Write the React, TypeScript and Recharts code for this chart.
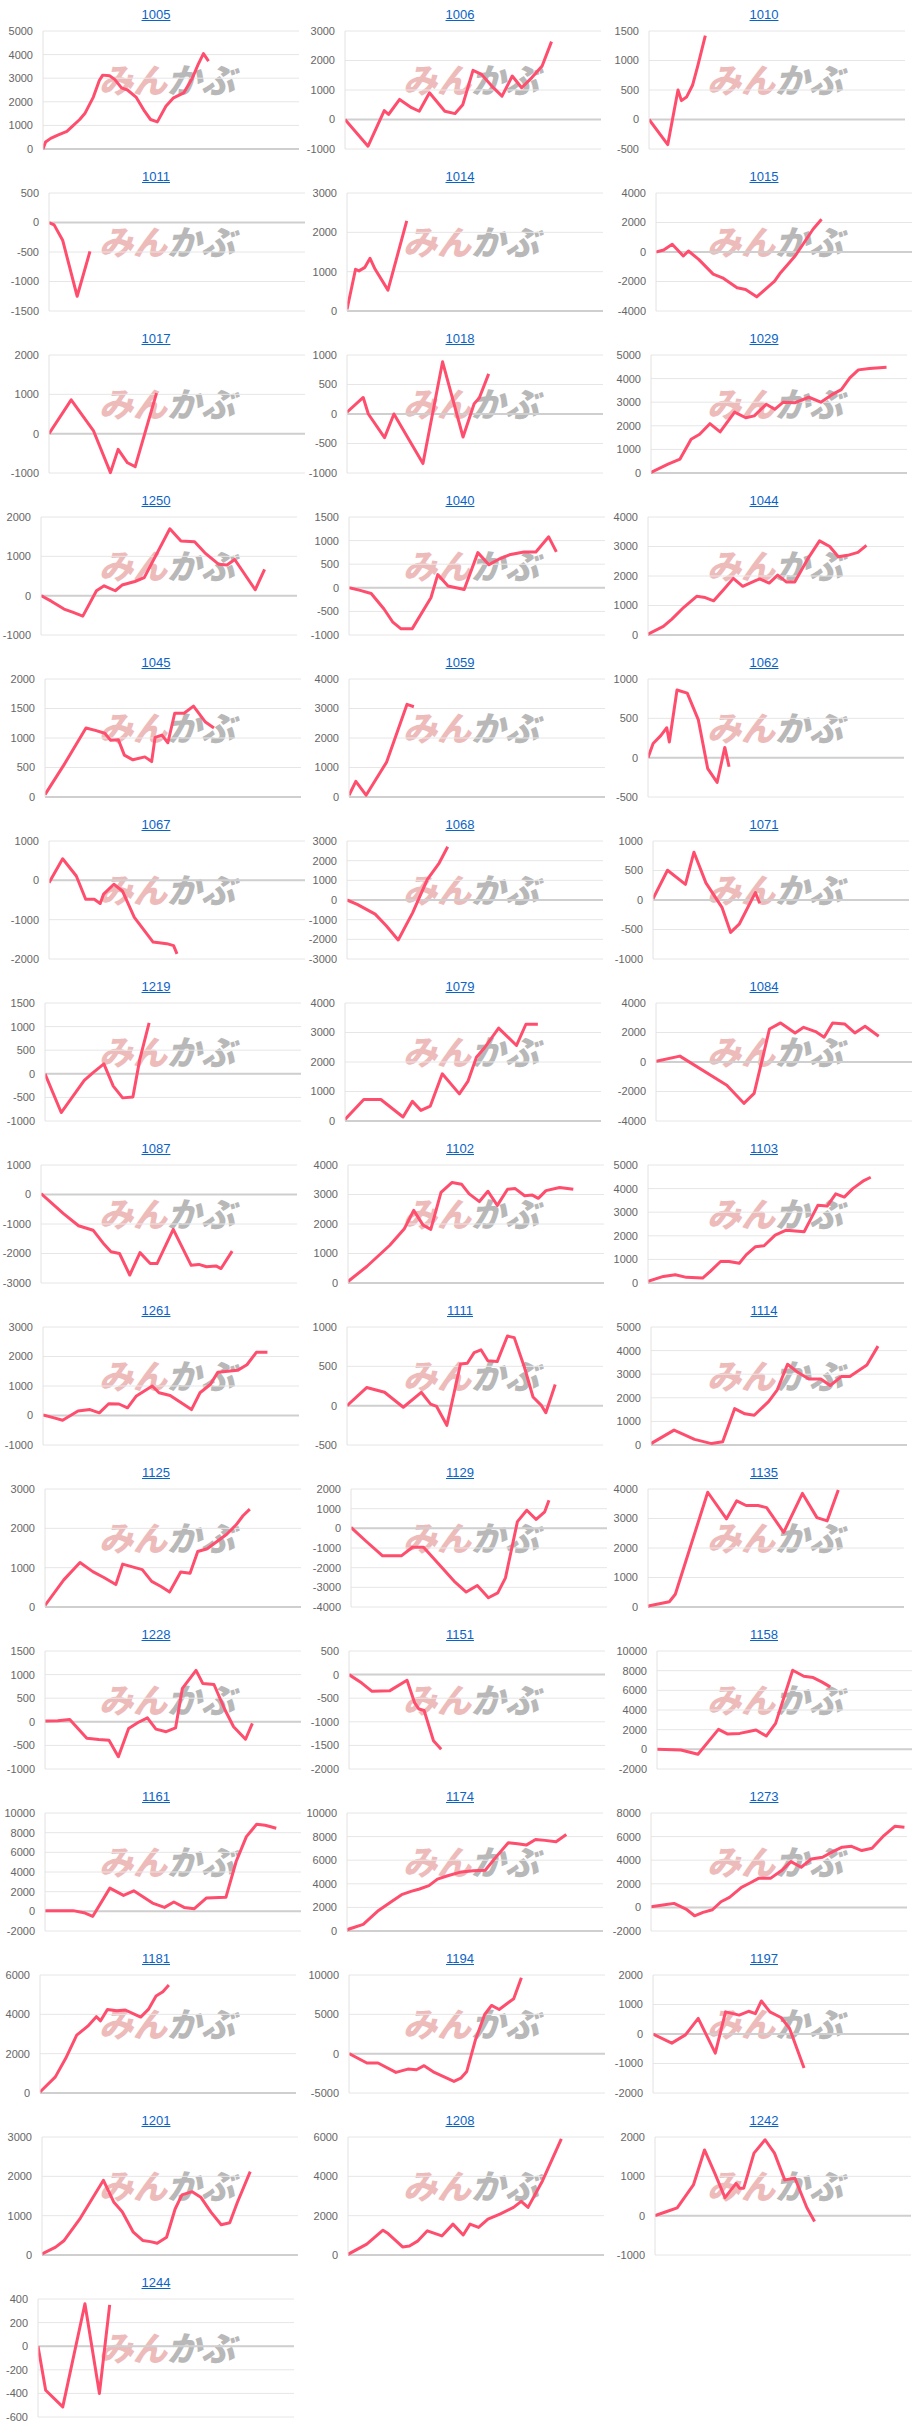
import { LineChart, Line, XAxis, YAxis, CartesianGrid, ReferenceLine } from "recharts";

// x = trading day position (0..30), y = cumulative result
const p1005: [number, number][] = [[0,0],[0.3,300],[0.9,450],[1.8,600],[2.8,750],[3.4,950],[4.3,1250],[4.9,1500],[5.9,2200],[6.6,2900],[7.0,3130],[7.8,3100],[8.4,2950],[9.2,2590],[9.9,2500],[10.9,2200],[11.9,1600],[12.6,1250],[13.4,1150],[14.4,1810],[15.3,2170],[16.5,2380],[17.5,3000],[18.2,3600],[18.8,4040],[19.4,3725]];
const p1006: [number, number][] = [[0,0],[2.7,-906],[4.6,300],[5.1,170],[6.4,680],[7.8,400],[8.7,280],[9.9,906],[11.7,280],[12.9,200],[13.8,500],[15.0,1666],[16.0,1530],[17.2,1133],[18.4,793],[19.6,1473],[20.7,1076],[21.9,1420],[23.1,1813],[24.2,2640]];
const p1010: [number, number][] = [[0,0],[2.2,-425],[3.4,500],[3.8,320],[4.4,380],[5.1,580],[5.7,900],[6.6,1420]];
const p1011: [number, number][] = [[0,0],[0.6,-40],[1.6,-300],[3.3,-1250],[4.8,-490]];
const p1014: [number, number][] = [[0,40],[1.0,1060],[1.4,1020],[2.1,1110],[2.7,1340],[3.3,1060],[4.8,530],[7.0,2290]];
const p1015: [number, number][] = [[0,0],[0.9,140],[1.9,520],[3.2,-270],[3.8,70],[5.0,-500],[6.7,-1500],[7.8,-1750],[9.5,-2430],[10.5,-2540],[11.8,-3040],[13.9,-1970],[14.6,-1400],[16.3,-270],[18.4,1540],[19.4,2220]];
const p1017: [number, number][] = [[0,0],[2.6,860],[5.2,80],[7.2,-990],[8.1,-400],[9.2,-740],[10.1,-840],[12.6,1030]];
const p1018: [number, number][] = [[0,30],[1.9,280],[2.5,0],[4.4,-400],[5.5,0],[8.9,-840],[11.2,885],[13.6,-390],[14.9,175],[15.5,270],[16.6,680]];
const p1029: [number, number][] = [[0,30],[2.0,380],[3.4,590],[4.7,1430],[5.7,1640],[6.9,2090],[8.1,1740],[9.8,2580],[11.1,2340],[12.1,2420],[13.5,2910],[14.5,2700],[15.5,3000],[16.9,2980],[18.5,3210],[19.9,3000],[21.2,3320],[22.3,3530],[23.3,4030],[24.3,4370],[25.6,4430],[27.6,4480]];
const p1250: [number, number][] = [[0,0],[1.2,-140],[2.7,-340],[3.7,-420],[4.9,-520],[6.5,125],[7.4,250],[8.7,125],[9.5,270],[11.0,360],[12.1,460],[15.1,1700],[16.4,1390],[18.0,1370],[19.2,1090],[20.8,800],[21.8,780],[22.7,920],[25.1,150],[26.2,670]];
const p1040: [number, number][] = [[0,0],[1.2,-50],[2.6,-120],[4.1,-450],[5.1,-720],[6.1,-870],[7.4,-870],[9.6,-210],[10.4,280],[11.6,40],[13.5,-35],[15.1,745],[16.4,490],[17.5,600],[18.8,700],[20.5,760],[21.9,760],[23.4,1080],[24.3,760]];
const p1044: [number, number][] = [[0,30],[1.8,290],[2.8,540],[4.2,940],[5.7,1310],[6.7,1270],[7.7,1160],[8.9,1550],[10.0,1920],[11.1,1650],[12.6,1840],[13.1,1900],[14.2,1760],[15.2,2030],[16.2,1800],[17.2,1800],[18.7,2570],[20.1,3190],[21.3,3000],[22.3,2650],[23.4,2700],[24.6,2800],[25.6,3040]];
const p1045: [number, number][] = [[0,40],[2.2,540],[4.8,1170],[5.9,1130],[7.0,1080],[7.7,960],[8.6,970],[9.3,710],[10.3,630],[11.7,680],[12.5,600],[12.9,1010],[13.7,1050],[14.4,920],[15.2,1420],[16.3,1420],[17.4,1540],[18.8,1270],[19.8,1170]];
const p1059: [number, number][] = [[0,60],[0.8,530],[2.0,60],[4.4,1180],[6.8,3140],[7.6,3060]];
const p1062: [number, number][] = [[0,0],[0.6,180],[1.5,280],[2.2,380],[2.5,200],[3.4,860],[4.6,820],[5.9,480],[7.0,-140],[8.1,-315],[9.0,130],[9.5,-115]];
const p1067: [number, number][] = [[0,-60],[1.6,550],[3.2,110],[4.3,-480],[5.3,-480],[6.0,-590],[6.4,-350],[7.6,-100],[8.6,-270],[10.0,-940],[12.2,-1570],[13.8,-1610],[14.6,-1660],[15.0,-1870]];
const p1068: [number, number][] = [[0,0],[1.2,-220],[3.3,-720],[4.6,-1310],[6.0,-2030],[7.7,-640],[9.4,1040],[10.8,1880],[11.8,2710]];
const p1071: [number, number][] = [[0,20],[1.7,505],[3.8,265],[4.8,810],[6.2,290],[8.1,-130],[9.1,-550],[10.1,-410],[12.0,125],[12.5,-55]];
const p1219: [number, number][] = [[0,0],[1.9,-820],[4.6,-140],[5.6,20],[6.9,210],[8.0,-260],[9.1,-510],[10.3,-490],[11.1,300],[12.2,1080]];
const p1079: [number, number][] = [[0,55],[2.2,730],[4.2,730],[6.8,135],[7.9,665],[8.9,360],[10.0,505],[11.4,1600],[13.4,920],[14.4,1340],[15.4,2160],[16.4,2500],[18.0,3150],[20.1,2560],[21.2,3280],[22.6,3280]];
const p1084: [number, number][] = [[0,50],[2.8,400],[8.3,-1570],[10.3,-2800],[11.5,-2130],[13.3,2240],[14.6,2650],[16.3,1970],[17.3,2350],[18.7,2060],[19.7,1680],[20.7,2650],[22.1,2580],[23.3,1970],[24.5,2420],[26.1,1750]];
const p1087: [number, number][] = [[0,30],[2.6,-640],[4.4,-1060],[6.1,-1210],[7.4,-1690],[8.2,-1940],[9.2,-2000],[10.4,-2730],[11.6,-1970],[12.8,-2340],[13.6,-2340],[15.5,-1180],[17.6,-2400],[18.5,-2370],[19.4,-2450],[20.5,-2420],[21.1,-2510],[22.4,-1920]];
const p1102: [number, number][] = [[0,50],[2.2,560],[4.9,1280],[6.6,1840],[7.7,2460],[8.8,1960],[9.7,1820],[10.9,3070],[12.2,3410],[13.3,3350],[14.2,3020],[15.4,2760],[16.4,3110],[17.5,2630],[18.7,3180],[19.6,3200],[20.7,2960],[21.6,2980],[22.3,2870],[23.2,3130],[24.8,3240],[26.4,3180]];
const p1103: [number, number][] = [[0,70],[1.8,280],[3.2,350],[4.5,240],[6.4,210],[7.3,490],[8.5,910],[9.5,910],[10.7,840],[11.5,1190],[12.6,1540],[13.6,1580],[14.9,2030],[16.2,2240],[18.3,2170],[18.9,2590],[19.9,3290],[21.0,3260],[22.0,3780],[23.0,3640],[24.0,4000],[25.3,4340],[26.1,4480]];
const p1261: [number, number][] = [[0,20],[1.3,-80],[2.3,-160],[4.1,150],[5.5,200],[6.6,90],[7.7,400],[8.9,390],[9.9,260],[10.9,650],[12.8,1000],[13.6,770],[14.9,680],[16.2,430],[17.4,200],[18.4,770],[19.6,1050],[20.5,1470],[22.8,1530],[23.9,1720],[25.0,2140],[26.3,2140]];
const p1111: [number, number][] = [[0,0],[2.3,230],[4.4,170],[6.6,-20],[8.7,170],[9.8,20],[10.5,-10],[11.7,-250],[13.3,530],[14.1,540],[14.9,675],[15.7,710],[16.5,570],[17.6,560],[18.8,885],[19.6,865],[20.8,485],[21.8,110],[22.8,0],[23.3,-90],[24.4,270]];
const p1114: [number, number][] = [[0,60],[2.7,630],[5.1,240],[7.1,60],[8.4,140],[9.8,1540],[11.0,1320],[12.1,1260],[13.8,1850],[14.8,2340],[16.0,3420],[17.2,3080],[18.5,2800],[19.9,2800],[21.0,2520],[22.3,2900],[23.3,2900],[25.3,3390],[26.6,4190]];
const p1125: [number, number][] = [[0,40],[2.2,690],[4.1,1130],[5.6,900],[6.9,750],[8.3,570],[9.1,1090],[11.4,950],[12.5,650],[13.6,520],[14.6,380],[15.9,890],[17.0,860],[17.9,1410],[19.0,1480],[21.3,1850],[22.4,2090],[23.2,2320],[24.0,2490]];
const p1129: [number, number][] = [[0,50],[1.8,-670],[3.7,-1400],[5.9,-1400],[7.2,-960],[8.5,-960],[10.7,-2020],[12.2,-2740],[13.5,-3240],[14.8,-2910],[16.1,-3530],[17.2,-3280],[18.1,-2520],[19.5,340],[20.6,920],[21.7,450],[22.7,840],[23.2,1430]];
const p1135: [number, number][] = [[0,30],[2.5,180],[3.2,430],[7.0,3890],[9.2,2990],[10.4,3600],[11.5,3440],[12.9,3440],[13.9,3370],[15.9,2530],[18.1,3850],[19.8,3030],[21.0,2920],[22.3,3970]];
const p1228: [number, number][] = [[0,15],[1.5,20],[2.9,50],[4.9,-350],[6.3,-375],[7.5,-390],[8.6,-740],[9.8,-140],[10.9,-15],[12.0,85],[13.0,-155],[14.2,-210],[15.3,-130],[16.1,710],[17.7,1090],[18.5,810],[19.8,790],[21.1,250],[22.1,-105],[23.5,-370],[24.3,-35]];
const p1151: [number, number][] = [[0,0],[1.5,-180],[2.7,-355],[4.8,-340],[6.8,-120],[7.7,-600],[8.2,-730],[8.8,-760],[9.9,-1400],[10.8,-1580]];
const p1158: [number, number][] = [[0,0],[2.8,-70],[4.8,-500],[7.2,2030],[8.3,1550],[9.7,1620],[11.6,1960],[12.8,1350],[13.9,2640],[15.9,8040],[17.2,7430],[18.3,7300],[19.3,6860],[20.3,6350]];
const p1161: [number, number][] = [[0,70],[3.3,70],[4.7,-170],[5.6,-510],[7.6,2360],[9.2,1620],[10.4,2090],[12.6,840],[14.0,400],[15.1,950],[16.3,400],[17.5,270],[18.9,1350],[21.2,1420],[22.4,5070],[23.6,7600],[24.8,8850],[25.8,8750],[27.1,8450]];
const p1174: [number, number][] = [[0,110],[1.9,560],[3.7,1740],[5.1,2440],[6.4,3080],[7.5,3360],[8.5,3560],[9.6,3840],[10.6,4400],[11.8,4680],[13.4,5010],[14.8,5100],[16.2,5150],[17.4,6220],[18.9,7480],[20.0,7400],[21.0,7280],[22.1,7760],[23.2,7680],[24.5,7560],[25.7,8180]];
const p1273: [number, number][] = [[0,60],[1.4,200],[2.7,340],[4.1,-140],[5.1,-710],[6.1,-420],[7.2,-200],[8.2,480],[9.2,850],[10.6,1700],[11.6,2070],[12.6,2460],[14.0,2460],[15.3,3120],[16.4,3880],[17.6,3400],[18.8,4110],[20.1,4250],[21.3,4730],[22.4,5100],[23.5,5180],[24.7,4820],[25.9,5010],[27.3,6090],[28.6,6880],[29.7,6800]];
const p1181: [number, number][] = [[0,50],[1.8,820],[3.0,1750],[4.3,2940],[5.6,3400],[6.6,3880],[7.1,3670],[7.9,4250],[9.0,4180],[10.0,4220],[11.1,4000],[11.8,3860],[12.7,4250],[13.6,4930],[14.4,5150],[15.1,5490]];
const p1194: [number, number][] = [[0,0],[2.1,-1190],[3.4,-1190],[5.5,-2380],[6.9,-1960],[7.9,-2040],[8.8,-1530],[10.0,-2380],[12.3,-3530],[13.1,-3110],[13.8,-2260],[14.8,1700],[15.9,4980],[16.7,6130],[17.6,5620],[19.3,6980],[20.2,9660]];
const p1197: [number, number][] = [[0,0],[2.2,-310],[3.8,-30],[5.3,530],[7.3,-650],[8.5,750],[10.1,640],[11.2,770],[12.0,690],[12.7,1120],[13.7,750],[15.0,560],[16.0,190],[17.7,-1150]];
const p1201: [number, number][] = [[0,25],[1.6,200],[2.6,370],[4.5,940],[7.2,1900],[8.4,1350],[9.4,1100],[10.7,580],[11.8,370],[12.7,340],[13.5,300],[14.6,450],[15.6,1170],[16.4,1530],[17.6,1610],[18.6,1470],[19.8,1090],[21.0,770],[22.0,820],[22.9,1340],[24.4,2120]];
const p1208: [number, number][] = [[0,35],[2.2,550],[4.1,1260],[4.7,1090],[6.4,410],[7.2,460],[8.2,720],[9.3,1230],[11.0,970],[12.3,1570],[13.5,1020],[14.3,1570],[15.3,1400],[16.4,1820],[17.8,2080],[19.4,2420],[20.3,2730],[21.1,2420],[22.8,3780],[25.0,5910]];
const p1242: [number, number][] = [[0,0],[1.3,100],[2.6,200],[4.5,780],[5.8,1670],[7.0,1080],[8.2,460],[9.5,820],[9.9,700],[10.4,700],[11.6,1590],[12.9,1930],[14.0,1590],[15.2,910],[16.4,950],[17.8,200],[18.7,-150]];
const p1244: [number, number][] = [[0,0],[0.9,-373],[2.9,-514],[5.5,360],[7.2,-400],[8.4,350]];

// y axis tick labels
const t1005 = [0, 1000, 2000, 3000, 4000, 5000];
const t1006 = [-1000, 0, 1000, 2000, 3000];
const t1010 = [-500, 0, 500, 1000, 1500];
const t1011 = [-1500, -1000, -500, 0, 500];
const t1014 = [0, 1000, 2000, 3000];
const t1015 = [-4000, -2000, 0, 2000, 4000];
const t1017 = [-1000, 0, 1000, 2000];
const t1018 = [-1000, -500, 0, 500, 1000];
const t1029 = [0, 1000, 2000, 3000, 4000, 5000];
const t1250 = [-1000, 0, 1000, 2000];
const t1040 = [-1000, -500, 0, 500, 1000, 1500];
const t1044 = [0, 1000, 2000, 3000, 4000];
const t1045 = [0, 500, 1000, 1500, 2000];
const t1059 = [0, 1000, 2000, 3000, 4000];
const t1062 = [-500, 0, 500, 1000];
const t1067 = [-2000, -1000, 0, 1000];
const t1068 = [-3000, -2000, -1000, 0, 1000, 2000, 3000];
const t1071 = [-1000, -500, 0, 500, 1000];
const t1219 = [-1000, -500, 0, 500, 1000, 1500];
const t1079 = [0, 1000, 2000, 3000, 4000];
const t1084 = [-4000, -2000, 0, 2000, 4000];
const t1087 = [-3000, -2000, -1000, 0, 1000];
const t1102 = [0, 1000, 2000, 3000, 4000];
const t1103 = [0, 1000, 2000, 3000, 4000, 5000];
const t1261 = [-1000, 0, 1000, 2000, 3000];
const t1111 = [-500, 0, 500, 1000];
const t1114 = [0, 1000, 2000, 3000, 4000, 5000];
const t1125 = [0, 1000, 2000, 3000];
const t1129 = [-4000, -3000, -2000, -1000, 0, 1000, 2000];
const t1135 = [0, 1000, 2000, 3000, 4000];
const t1228 = [-1000, -500, 0, 500, 1000, 1500];
const t1151 = [-2000, -1500, -1000, -500, 0, 500];
const t1158 = [-2000, 0, 2000, 4000, 6000, 8000, 10000];
const t1161 = [-2000, 0, 2000, 4000, 6000, 8000, 10000];
const t1174 = [0, 2000, 4000, 6000, 8000, 10000];
const t1273 = [-2000, 0, 2000, 4000, 6000, 8000];
const t1181 = [0, 2000, 4000, 6000];
const t1194 = [-5000, 0, 5000, 10000];
const t1197 = [-2000, -1000, 0, 1000, 2000];
const t1201 = [0, 1000, 2000, 3000];
const t1208 = [0, 2000, 4000, 6000];
const t1242 = [-1000, 0, 1000, 2000];
const t1244 = [-600, -400, -200, 0, 200, 400];

const charts: { id: string; points: [number, number][]; ticks: number[] }[] = [
  { id: "1005", points: p1005, ticks: t1005 },
  { id: "1006", points: p1006, ticks: t1006 },
  { id: "1010", points: p1010, ticks: t1010 },
  { id: "1011", points: p1011, ticks: t1011 },
  { id: "1014", points: p1014, ticks: t1014 },
  { id: "1015", points: p1015, ticks: t1015 },
  { id: "1017", points: p1017, ticks: t1017 },
  { id: "1018", points: p1018, ticks: t1018 },
  { id: "1029", points: p1029, ticks: t1029 },
  { id: "1250", points: p1250, ticks: t1250 },
  { id: "1040", points: p1040, ticks: t1040 },
  { id: "1044", points: p1044, ticks: t1044 },
  { id: "1045", points: p1045, ticks: t1045 },
  { id: "1059", points: p1059, ticks: t1059 },
  { id: "1062", points: p1062, ticks: t1062 },
  { id: "1067", points: p1067, ticks: t1067 },
  { id: "1068", points: p1068, ticks: t1068 },
  { id: "1071", points: p1071, ticks: t1071 },
  { id: "1219", points: p1219, ticks: t1219 },
  { id: "1079", points: p1079, ticks: t1079 },
  { id: "1084", points: p1084, ticks: t1084 },
  { id: "1087", points: p1087, ticks: t1087 },
  { id: "1102", points: p1102, ticks: t1102 },
  { id: "1103", points: p1103, ticks: t1103 },
  { id: "1261", points: p1261, ticks: t1261 },
  { id: "1111", points: p1111, ticks: t1111 },
  { id: "1114", points: p1114, ticks: t1114 },
  { id: "1125", points: p1125, ticks: t1125 },
  { id: "1129", points: p1129, ticks: t1129 },
  { id: "1135", points: p1135, ticks: t1135 },
  { id: "1228", points: p1228, ticks: t1228 },
  { id: "1151", points: p1151, ticks: t1151 },
  { id: "1158", points: p1158, ticks: t1158 },
  { id: "1161", points: p1161, ticks: t1161 },
  { id: "1174", points: p1174, ticks: t1174 },
  { id: "1273", points: p1273, ticks: t1273 },
  { id: "1181", points: p1181, ticks: t1181 },
  { id: "1194", points: p1194, ticks: t1194 },
  { id: "1197", points: p1197, ticks: t1197 },
  { id: "1201", points: p1201, ticks: t1201 },
  { id: "1208", points: p1208, ticks: t1208 },
  { id: "1242", points: p1242, ticks: t1242 },
  { id: "1244", points: p1244, ticks: t1244 },
];

// layout: where each small chart's y axis sits inside its cell
const plotLeft: Record<string, number> = {
  "1005": 43, "1006": 41, "1010": 41, "1011": 49, "1014": 43, "1015": 48,
  "1017": 49, "1018": 43, "1029": 43, "1250": 41, "1040": 45, "1044": 40,
  "1045": 45, "1059": 45, "1062": 40, "1067": 49, "1068": 43, "1071": 45,
  "1219": 45, "1079": 41, "1084": 48, "1087": 41, "1102": 44, "1103": 40,
  "1261": 43, "1111": 43, "1114": 43, "1125": 45, "1129": 47, "1135": 40,
  "1228": 45, "1151": 45, "1158": 49, "1161": 45, "1174": 43, "1273": 43,
  "1181": 40, "1194": 45, "1197": 45, "1201": 42, "1208": 44, "1242": 47,
  "1244": 38,
};

const CELL_W = 304;
const CELL_H = 162;
const PLOT_W = 256;
const LINE_COLOR = "#ff4d6d";

function MiniChart({ id, points, ticks, index }: { id: string; points: [number, number][]; ticks: number[]; index: number }) {
  const left = plotLeft[id];
  const data = points.map(([x, y]) => ({ x, y }));
  const col = index % 3;
  const row = Math.floor(index / 3);
  return (
    <div style={{ position: "absolute", left: col * CELL_W, top: row * CELL_H, width: CELL_W, height: CELL_H }}>
      {/* watermark */}
      <div
        style={{
          position: "absolute",
          left: 99,
          top: 60,
          fontFamily: '"Noto Sans CJK JP"',
          fontWeight: 900,
          fontStyle: "italic",
          fontSize: 34,
          lineHeight: "38px",
          whiteSpace: "nowrap",
        }}
      >
        <span style={{ color: "#eebbbb" }}>みん</span>
        <span style={{ color: "#b8b8b8" }}>かぶ</span>
      </div>
      <div
        style={{
          position: "absolute",
          left: 0,
          top: 7,
          width: 312,
          textAlign: "center",
          fontFamily: '"Liberation Sans", Arial, sans-serif',
          fontSize: 13,
          lineHeight: "15px",
          color: "#0a64c8",
          textDecoration: "underline",
        }}
      >
        {id}
      </div>
      <LineChart
        width={left + PLOT_W + 2}
        height={CELL_H}
        data={data}
        margin={{ top: 31, right: 2, bottom: 13, left: 0 }}
        style={{ fontFamily: '"Liberation Sans", Arial, sans-serif' }}
      >
        <CartesianGrid vertical={false} stroke="#e6e6e6" />
        <XAxis type="number" dataKey="x" domain={[0, 30]} hide allowDataOverflow />
        <YAxis
          type="number"
          domain={[ticks[0], ticks[ticks.length - 1]]}
          ticks={ticks}
          interval={0}
          width={left}
          tickLine={false}
          tickSize={6}
          tickMargin={4}
          axisLine={{ stroke: "#e2e2e2" }}
          tick={{ fill: "#666", fontSize: 11 }}
        />
        <ReferenceLine y={0} stroke="#cfcfcf" strokeWidth={2} />
        <Line
          type="linear"
          dataKey="y"
          stroke={LINE_COLOR}
          strokeWidth={3}
          strokeLinejoin="round"
          dot={false}
          isAnimationActive={false}
        />
      </LineChart>
    </div>
  );
}

export default function App() {
  return (
    <div style={{ position: "absolute", left: 0, top: 0, width: 912, height: 2430, background: "#fff", overflow: "hidden" }}>
      {charts.map((c, i) => (
        <MiniChart key={c.id} id={c.id} points={c.points} ticks={c.ticks} index={i} />
      ))}
    </div>
  );
}
